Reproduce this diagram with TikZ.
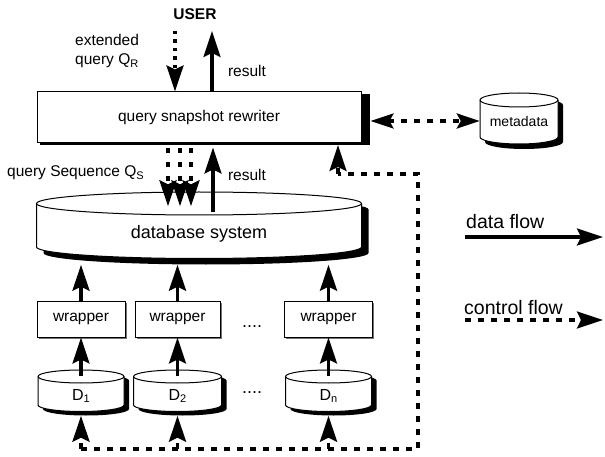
\documentclass[tikz,border=0pt]{standalone}
\usepackage{fontspec}
\setmainfont{Liberation Sans}
\usetikzlibrary{arrows.meta,calc,shadows}
\newcommand{\sbs}[1]{\raisebox{-0.35ex}{\fontsize{11}{11}\selectfont #1}}
% cylinder: cx, top-ellipse centre y, side end y, rx, ry, shadow dx, shadow dy
\newcommand{\drawcyl}[7]{%
  \filldraw[fill=white,draw=black,line width=1pt,
    preaction={fill=black,transform canvas={shift={(#6pt,-#7pt)}}}]
    ({#1-#4},#2) -- ({#1-#4},#3)
    .. controls ({#1-#4},{#3+0.5523*#5}) and ({#1-0.5523*#4},{#3+#5}) .. (#1,{#3+#5})
    .. controls ({#1+0.5523*#4},{#3+#5}) and ({#1+#4},{#3+0.5523*#5}) .. ({#1+#4},#3)
    -- ({#1+#4},#2)
    .. controls ({#1+#4},{#2-0.5523*#5}) and ({#1+0.5523*#4},{#2-#5}) .. (#1,{#2-#5})
    .. controls ({#1-0.5523*#4},{#2-#5}) and ({#1-#4},{#2-0.5523*#5}) .. ({#1-#4},#2) -- cycle;
  \draw[line width=1pt] ({#1-#4},#2)
    .. controls ({#1-#4},{#2+0.5523*#5}) and ({#1-0.5523*#4},{#2+#5}) .. (#1,{#2+#5})
    .. controls ({#1+0.5523*#4},{#2+#5}) and ({#1+#4},{#2+0.5523*#5}) .. ({#1+#4},#2);
}
\tikzset{
  every node/.style={font=\fontsize{15.5}{19.5}\selectfont, inner sep=0pt},
  box/.style={draw, line width=1pt, fill=white, minimum height=36pt},
  wshadow/.style={general shadow={fill=black!55, shadow xshift=1.5pt, shadow yshift=-1.5pt}},
  hd/.style={-{Stealth[length=26pt,width=17pt,inset=4pt]}},
  dflow/.style={line width=3.2pt, hd},
  cflow/.style={line width=3.2pt, dash pattern=on 6pt off 7pt},
  qdash/.style={line width=3.6pt, dash pattern=on 4.5pt off 9.5pt},
  udash/.style={line width=3.4pt, dash pattern=on 3.5pt off 5pt},
}
\begin{document}
\begin{tikzpicture}[x=1pt,y=-1pt]
\useasboundingbox (0,0) rectangle (605,457);

% rewriter
\node[box, minimum width=324pt, minimum height=51pt] (rw) at (199,117.5) {query snapshot rewriter};
\fill ($(rw.north east)+(0,3)$) rectangle ($(rw.south east)+(8,2)$);
\fill ($(rw.south west)+(3,0)$) rectangle ($(rw.south east)+(8,2)$);

% user
\node[font=\bfseries\fontsize{15.5}{19.5}\selectfont] (user) at (195,14) {USER};
\node[anchor=west, align=left] (ext) at (75,51) {extended\\query Q\sbs{R}};
\coordinate (uq) at (175,31);
\coordinate (ur) at (212,31);
\draw[udash, hd] (uq) -- (uq |- rw.north);
\draw[dflow] (ur |- rw.north) -- (ur);
\node (res1) at (247,71) {result};

% metadata
\drawcyl{519}{100}{137}{39}{7}{5}{5}
\node[minimum width=78pt, minimum height=52pt] (meta) at (519,121) {\fontsize{14}{16}\selectfont metadata};
\draw[cflow, {Stealth[length=23pt,width=15pt,inset=4pt]}-{Stealth[length=23pt,width=15pt,inset=4pt]}]
  ($(rw.east)+(9,3.5)$) -- (meta.west);

% database
\drawcyl{199}{203.5}{247}{162.5}{11.5}{7}{6}
\node[minimum width=325pt, minimum height=61pt] (db) at (199,234) {\fontsize{18}{20}\selectfont database system};

% query sequence
\node[anchor=west] (qs) at (7,173) {query Sequence Q\sbs{S}};
\foreach \dx in {-31,-19,-8}
  \draw[qdash,hd] ($(rw.south)+(\dx,5)$) -- ($(db.north)+(\dx,3)$);
\draw[dflow] ($(db.north)+(14,9)$) -- ($(rw.south)+(14,4)$);
\node (res2) at (247,175) {result};

% wrappers
\node[box, wshadow, minimum width=88pt] (w1) at (81,319) {wrapper};
\node[box, wshadow, minimum width=85pt] (w2) at (177.5,319) {wrapper};
\node[box, wshadow, minimum width=88pt] (w3) at (328.5,319) {wrapper};
\node (dots1) at (252,327) {\fontsize{18}{20}\selectfont ....};

% sources
\drawcyl{81}{376.5}{405}{43}{6.5}{5}{4}
\drawcyl{177.5}{376.5}{405}{44}{6.5}{5}{4}
\drawcyl{328.5}{376.5}{405}{43}{6.5}{5}{4}
\node[minimum width=86pt, minimum height=39pt] (d1) at (81,396) {\fontsize{16}{18}\selectfont D\sbs{1}};
\node[minimum width=88pt, minimum height=39pt] (d2) at (177.5,396) {\fontsize{16}{18}\selectfont D\sbs{2}};
\node[minimum width=86pt, minimum height=39pt] (d3) at (328.5,396) {\fontsize{16}{18}\selectfont D\sbs{n}};
\node (dots2) at (252,393) {\fontsize{18}{20}\selectfont ....};

\foreach \n in {1,2,3} {
  \draw[dflow] (d\n.north) -- (w\n.south);
  \draw[dflow] (w\n.north) -- (w\n.north |- db.south);
}

% control path
\coordinate (cb) at (418,449);
\coordinate (ct) at (418,174);
\coordinate (rwin) at (338,145);
\draw[cflow] (d1 |- cb) -- (cb) -- (ct) -- (ct -| rwin);
\draw[cflow,hd] (ct -| rwin) -- (rwin);
\foreach \n in {1,2,3}
  \draw[cflow,hd] (d\n |- cb) -- (d\n.south);

% legend
\node[anchor=west, font=\fontsize{19.5}{22}\selectfont] (ldata) at (466,222) {data flow};
\coordinate (la1) at (465,237);
\coordinate (la2) at (603,237);
\draw[dflow] (la1) -- (la2);
\node[anchor=west, font=\fontsize{19.5}{22}\selectfont] (lctrl) at (464,308) {control flow};
\coordinate (lc1) at (465,320);
\coordinate (lc2) at (603,320);
\draw[cflow,hd] (lc1) -- (lc2);
\end{tikzpicture}
\end{document}
